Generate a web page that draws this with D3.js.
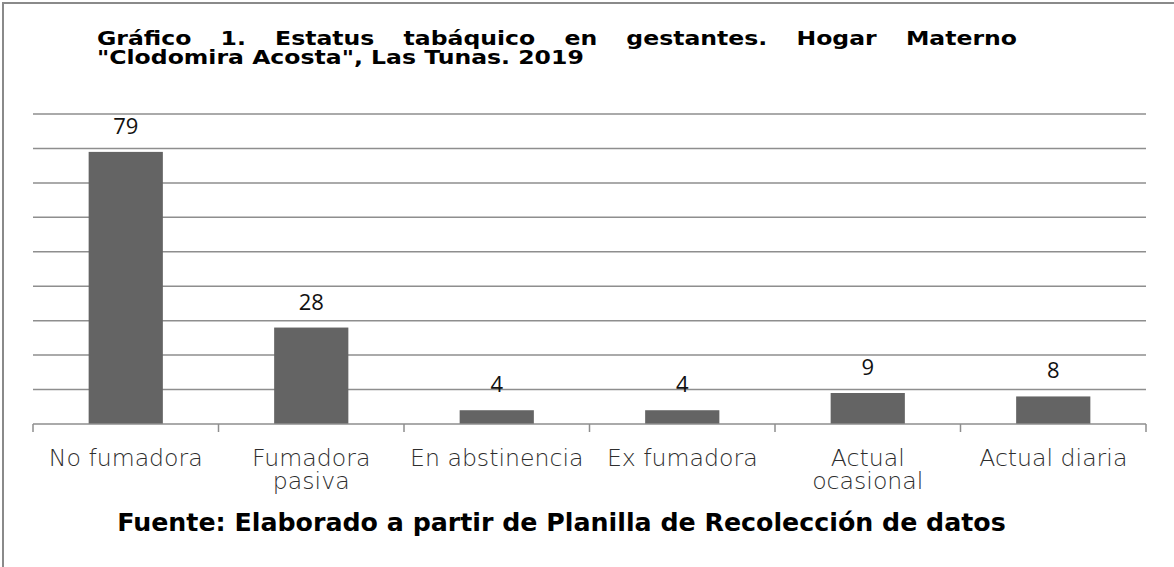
<!DOCTYPE html>
<html>
<head>
<meta charset="utf-8">
<script src="https://cdn.jsdelivr.net/npm/d3@7"></script>
<style>
  html, body { margin: 0; padding: 0; background: #fff; }
  svg { display: block; }
</style>
</head>
<body>
<svg id="chart" width="1174" height="567"></svg>
<script>
// ---- Data ----
const categories = [["No fumadora"], ["Fumadora", "pasiva"], ["En abstinencia"], ["Ex fumadora"], ["Actual", "ocasional"], ["Actual diaria"]];
const values = [79, 28, 4, 4, 9, 8];
const yTicks = [0, 10, 20, 30, 40, 50, 60, 70, 80, 90];
const titleLine1 = "Gráfico 1. Estatus tabáquico en gestantes. Hogar Materno";
const titleLine2 = "\"Clodomira Acosta\", Las Tunas. 2019";
const footer = "Fuente: Elaborado a partir de Planilla de Recolección de datos";

const svg = d3.select("#chart");

// frame
svg.append("rect").attr("x", 3).attr("y", 3).attr("width", 1200).attr("height", 600)
  .attr("fill", "none").attr("stroke", "#8a8a8a").attr("stroke-width", 2);

const pLeft = 33, pRight = 1146, pTop = 114, pBottom = 424;
const x = d3.scaleBand().domain(d3.range(categories.length)).range([pLeft, pRight]).paddingInner(0).paddingOuter(0);
const y = d3.scaleLinear().domain([0, 90]).range([pBottom, pTop]);

// gridlines
svg.append("g").selectAll("line").data(yTicks.filter(d => d > 0)).join("line")
  .attr("x1", pLeft).attr("x2", pRight)
  .attr("y1", d => y(d)).attr("y2", d => y(d))
  .attr("stroke", "#8e8e8e").attr("stroke-width", 1.5);

// bars
const bw = x.bandwidth() * 0.4;
svg.append("g").selectAll("rect").data(values).join("rect")
  .attr("x", (d, i) => x(i) + x.bandwidth() / 2 - bw / 2)
  .attr("y", d => y(d))
  .attr("width", bw)
  .attr("height", d => y(0) - y(d))
  .attr("fill", "#646464");

// axis line + ticks
const ax = svg.append("g");
ax.append("line").attr("x1", pLeft).attr("x2", pRight).attr("y1", y(0)).attr("y2", y(0))
  .attr("stroke", "#8e8e8e").attr("stroke-width", 1.5);
const tickXs = d3.range(categories.length + 1).map(i => i < categories.length ? x(i) : pRight);
ax.selectAll("line.tick").data(tickXs).join("line").attr("class", "tick")
  .attr("x1", d => d).attr("x2", d => d).attr("y1", y(0)).attr("y2", y(0) + 8)
  .attr("stroke", "#8e8e8e").attr("stroke-width", 1.5);

// data labels
svg.append("g").selectAll("text").data(values).join("text")
  .attr("x", (d, i) => x(i) + x.bandwidth() / 2)
  .attr("y", d => y(d) - 18)
  .attr("text-anchor", "middle")
  .attr("font-family", "'Open Sans', sans-serif")
  .attr("font-size", 22)
  .attr("fill", "#111")
  .text(d => d);

// helper to measure text
function measure(text, family, weight, size) {
  const t = svg.append("text").attr("font-family", family).attr("font-weight", weight)
    .attr("font-size", size).text(text);
  const w = t.node().getComputedTextLength();
  t.remove();
  return w;
}
function fitSize(text, family, weight, targetW) {
  return 100 * targetW / measure(text, family, weight, 100);
}

// category labels
const catFamily = "'DejaVu Sans', sans-serif";
const catSize = fitSize("No fumadora", catFamily, 200, 154);
const cat = svg.append("g");
categories.forEach((lines, i) => {
  lines.forEach((l, j) => {
    cat.append("text")
      .attr("x", x(i) + x.bandwidth() / 2)
      .attr("y", 466 + j * 23)
      .attr("text-anchor", "middle")
      .attr("font-family", catFamily).attr("font-weight", 200)
      .attr("font-size", catSize).attr("fill", "#2e2e2e")
      .text(l);
  });
});

// title (horizontally stretched to mimic the wide bold face)
const titleFamily = "'DejaVu Sans', Verdana, sans-serif";
const titleSize = 19;
const l2w = measure(titleLine2, titleFamily, "bold", titleSize);
const sx = 487 / l2w;
const tx0 = 97, tx1 = 1017;
const tg = svg.append("g").attr("transform", `translate(${tx0},0) scale(${sx},1)`)
  .attr("font-family", titleFamily).attr("font-weight", "bold")
  .attr("font-size", titleSize).attr("fill", "#000");
// justified line 1
const words = titleLine1.split(" ");
const wNodes = words.map(w => tg.append("text").attr("y", 45).text(w));
const widths = wNodes.map(n => n.node().getComputedTextLength());
const avail = (tx1 - tx0) / sx;
const gap = (avail - d3.sum(widths)) / (words.length - 1);
let cx = 0;
wNodes.forEach((n, i) => { n.attr("x", cx); cx += widths[i] + gap; });
tg.append("text").attr("x", 0).attr("y", 64).text(titleLine2);

// footer
const footSize = fitSize(footer, titleFamily, "bold", 889);
svg.append("text").attr("x", 561.5).attr("y", 531).attr("text-anchor", "middle")
  .attr("font-family", titleFamily).attr("font-weight", "bold")
  .attr("font-size", footSize).attr("fill", "#000").text(footer);
</script>
</body>
</html>
